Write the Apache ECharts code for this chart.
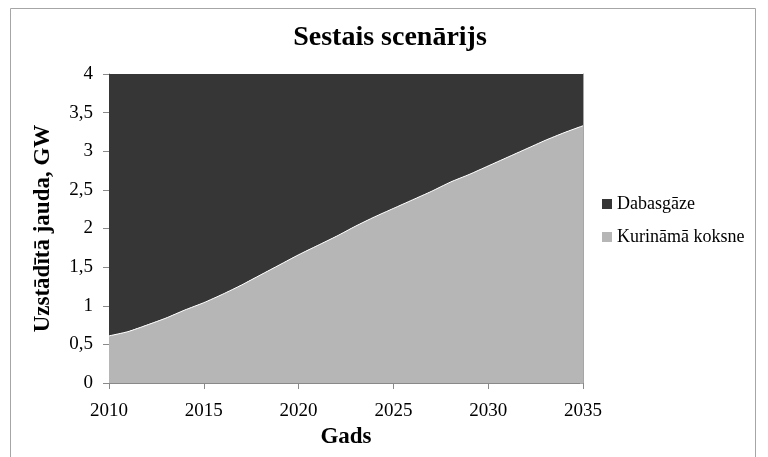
<!DOCTYPE html>
<html>
<head>
<meta charset="utf-8">
<script src="https://cdn.jsdelivr.net/npm/echarts@6/dist/echarts.min.js"></script>
<style>html,body{margin:0;padding:0;background:#fff}#c{width:768px;height:457px}</style>
</head>
<body>
<div id="c"></div>
<script>
var years = [2010,2011,2012,2013,2014,2015,2016,2017,2018,2019,2020,2021,2022,2023,2024,2025,2026,2027,2028,2029,2030,2031,2032,2033,2034,2035];
var koksne = [0.61,0.665,0.75,0.84,0.945,1.04,1.15,1.27,1.40,1.53,1.66,1.78,1.90,2.03,2.15,2.26,2.37,2.48,2.60,2.70,2.81,2.92,3.03,3.14,3.24,3.33];
var dabasgaze = [3.39,3.335,3.25,3.16,3.055,2.96,2.85,2.73,2.60,2.47,2.34,2.22,2.10,1.97,1.85,1.74,1.63,1.52,1.40,1.30,1.19,1.08,0.97,0.86,0.76,0.67];
var yTicks = ['0','0,5','1','1,5','2','2,5','3','3,5','4'];

var font = '"Liberation Serif", "Times New Roman", serif';
var chart = echarts.init(document.getElementById('c'), null, {renderer:'canvas'});
chart.setOption({
  animation:false,
  backgroundColor:'#fff',
  title:{text:'Sestais scenārijs', left:385, top:19, textAlign:'center',
    textStyle:{fontFamily:font, fontSize:28, fontWeight:'bold', color:'#000'}},
  graphic:[{type:'rect', shape:{x:10.5,y:8.5,width:745,height:460}, style:{fill:'none', stroke:'#a6a6a6', lineWidth:1}, silent:true}],
  legend:{orient:'vertical', left:597, top:190, itemWidth:10, itemHeight:10, itemGap:15, icon:'rect',
    data:['Dabasgāze','Kurināmā koksne'],
    textStyle:{fontFamily:font, fontSize:18, color:'#000'}},
  grid:{left:109, right:185, top:74, bottom:74},
  xAxis:{type:'category', data:years, boundaryGap:false,
    name:'Gads', nameLocation:'middle', nameGap:37,
    nameTextStyle:{fontFamily:font, fontSize:23, fontWeight:'bold', color:'#000'},
    axisLine:{lineStyle:{color:'#898989'}},
    axisTick:{interval:4, length:6, lineStyle:{color:'#898989'}},
    axisLabel:{interval:4, fontFamily:font, fontSize:19, color:'#000', margin:19}},
  yAxis:[{type:'value', min:0, max:4, interval:0.5,
    name:'Uzstādītā jauda, GW', nameLocation:'middle', nameGap:54,
    nameTextStyle:{fontFamily:font, fontSize:23, fontWeight:'bold', color:'#000'},
    axisLine:{show:true, lineStyle:{color:'#898989'}},
    axisTick:{show:true, length:6, lineStyle:{color:'#898989'}},
    splitLine:{show:false},
    axisLabel:{fontFamily:font, fontSize:19, color:'#000', margin:16,
      formatter:function(v){return yTicks[Math.round(v*2)];}}},
    {type:'value', min:0, max:4, interval:0.5, position:'right',
    axisLine:{show:true, lineStyle:{color:'#a6a6a6'}},
    axisTick:{show:true, inside:true, length:3, lineStyle:{color:'#a6a6a6'}},
    axisLabel:{show:false}, splitLine:{show:false}}],
  series:[
    {name:'Kurināmā koksne', type:'line', stack:'s', data:koksne, symbol:'none', smooth:0.2,
      lineStyle:{color:'#ffffff', width:1}, itemStyle:{color:'#b6b6b6'},
      areaStyle:{color:'#b6b6b6', opacity:1}, z:3},
    {name:'Dabasgāze', type:'line', stack:'s', data:dabasgaze, symbol:'none', smooth:0.2,
      lineStyle:{width:0, color:'#363636'}, itemStyle:{color:'#363636'},
      areaStyle:{color:'#363636', opacity:1}, z:2}
  ]
});
</script>
</body>
</html>
